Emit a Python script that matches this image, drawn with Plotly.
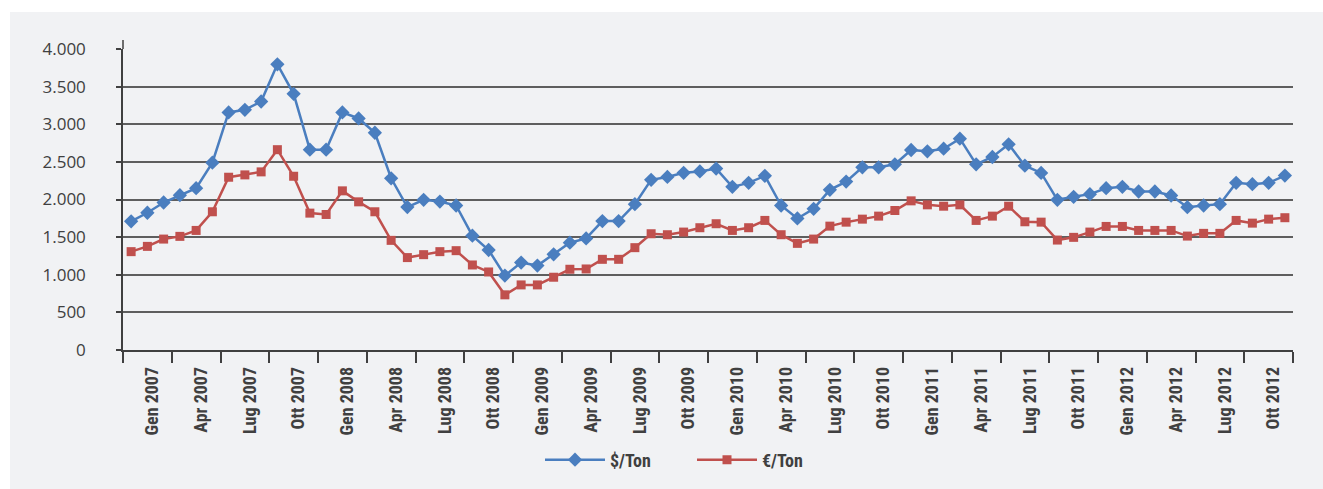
import plotly.graph_objects as go

# ---- data ----
month_abbr = ["Gen", "Feb", "Mar", "Apr", "Mag", "Giu", "Lug", "Ago", "Set", "Ott", "Nov", "Dic"]
years = [2007, 2008, 2009, 2010, 2011, 2012]
months = [f"{m} {y}" for y in years for m in month_abbr]

usd_ton = [1710, 1824, 1960, 2057, 2150, 2490, 3157, 3192, 3302, 3797, 3404, 2662,
           2662, 3157, 3077, 2887, 2282, 1900, 1996, 1973, 1920, 1519, 1329, 989,
           1162, 1122, 1272, 1426, 1483, 1713, 1713, 1938, 2261, 2300, 2355, 2373,
           2411, 2168, 2221, 2314, 1920, 1748, 1876, 2128, 2238, 2428, 2428, 2468,
           2658, 2640, 2675, 2808, 2468, 2565, 2733, 2450, 2353, 1996, 2036, 2071,
           2150, 2168, 2106, 2106, 2053, 1898, 1920, 1938, 2221, 2203, 2221, 2318]

eur_ton = [1307, 1377, 1474, 1510, 1589, 1837, 2296, 2327, 2367, 2662, 2309, 1819,
           1801, 2115, 1969, 1837, 1457, 1228, 1267, 1307, 1320, 1130, 1037, 733,
           865, 865, 967, 1073, 1077, 1205, 1205, 1360, 1545, 1532, 1567, 1625,
           1678, 1589, 1625, 1722, 1532, 1417, 1474, 1646, 1699, 1739, 1779, 1854,
           1982, 1929, 1911, 1929, 1722, 1779, 1911, 1704, 1699, 1461, 1497, 1567,
           1642, 1642, 1589, 1589, 1589, 1514, 1550, 1550, 1722, 1686, 1739, 1758]

y_ticks = [0, 500, 1000, 1500, 2000, 2500, 3000, 3500, 4000]
label_step = 3

# ---- figure ----
W, H = 1323, 489
ML, MR, MT, MB = 123, 30, 49, 138
PW, PH = W - ML - MR, H - MT - MB

BG = "#F1F2F4"
AX = "#404040"
GRID = "#5E5E5E"
BLUE = "#4A7EBF"
RED = "#C0504D"
COND = "Roboto Condensed"

x_idx = list(range(len(months)))

fig = go.Figure()
fig.add_trace(go.Scatter(
    x=x_idx, y=usd_ton, name="$/Ton", mode="lines+markers",
    line=dict(color=BLUE, width=2.5),
    marker=dict(symbol="diamond", size=11, color=BLUE),
))
fig.add_trace(go.Scatter(
    x=x_idx, y=eur_ton, name="€/Ton", mode="lines+markers",
    line=dict(color=RED, width=2.5),
    marker=dict(symbol="square", size=9, color=RED),
))

tick_pos = [i + 1.3 for i in range(0, len(months), label_step)]
tick_txt = [months[i] for i in range(0, len(months), label_step)]

fig.update_layout(
    width=W, height=H, autosize=False,
    margin=dict(l=ML, r=MR, t=MT, b=MB, pad=0),
    paper_bgcolor=BG,
    plot_bgcolor=BG,
    separators=",.",
    showlegend=True,
    legend=dict(
        orientation="h", x=(692 - ML) / PW, xanchor="center",
        y=(MT + PH - 460) / PH, yanchor="middle",
        bgcolor="rgba(0,0,0,0)",
        font=dict(family=COND, size=18, color=AX, weight="bold"),
        itemwidth=60, entrywidth=77, entrywidthmode="pixels", tracegroupgap=0,
    ),
    shapes=[
        dict(type="rect", xref="paper", yref="paper", layer="below",
             x0=-ML / PW - 0.01, x1=(10 - ML) / PW,
             y0=-0.6, y1=1.3, fillcolor="white", line=dict(width=0)),
        dict(type="rect", xref="paper", yref="paper", layer="below",
             x0=-ML / PW - 0.01, x1=1.1,
             y0=(MT + PH - 12) / PH, y1=1.3, fillcolor="white", line=dict(width=0)),
        dict(type="line", xref="paper", yref="paper", layer="above",
             x0=0, x1=0, y0=1, y1=1 + 9 / PH, line=dict(color=AX, width=1.5)),
        dict(type="line", xref="paper", yref="paper", layer="above",
             x0=-5 / PW, x1=0, y0=0, y1=0, line=dict(color=AX, width=1.5)),
    ],
)

fig.update_xaxes(
    range=[-0.5, len(months) - 0.5],
    tickmode="array", tickvals=tick_pos, ticktext=tick_txt,
    tickangle=-90, ticks="", ticklabelstandoff=8,
    tickfont=dict(family=COND, size=18, color=AX, weight="bold"),
    showgrid=False, zeroline=False,
    showline=True, linecolor=AX, linewidth=1.5,
    minor=dict(tick0=-0.5, dtick=label_step, ticks="outside", ticklen=11,
               tickwidth=1.5, tickcolor=AX, showgrid=False),
)

fig.update_yaxes(
    range=[0, 4000],
    tickmode="array", tickvals=y_ticks, tickformat=",d",
    ticks="outside", ticklen=5, tickwidth=1.5, tickcolor=AX,
    ticklabelstandoff=27,
    tickfont=dict(family="Open Sans", size=17, color=AX),
    showgrid=True, gridcolor=GRID, gridwidth=1.5,
    zeroline=False,
    showline=True, linecolor=AX, linewidth=1.5,
)

fig.write_html(
    "out.html",
    config={"displayModeBar": False},
    post_script="document.body.style.margin='0';document.body.style.overflow='hidden';",
)
